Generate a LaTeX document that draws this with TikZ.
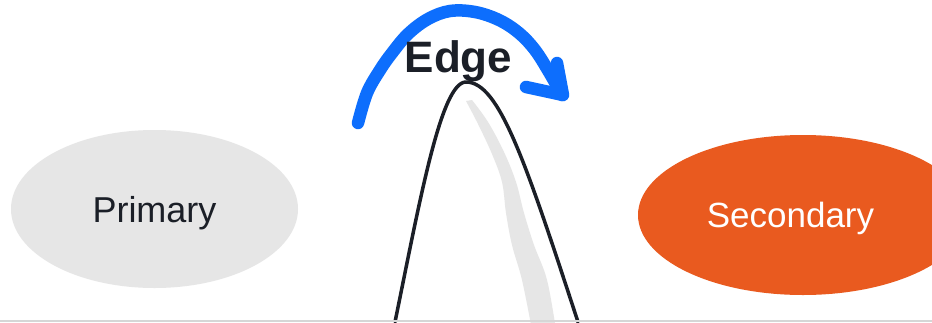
\documentclass[tikz,border=0pt]{standalone}
\usepackage{fontspec}
\setmainfont{Liberation Sans}
\usetikzlibrary{shapes.geometric}
\definecolor{inkdark}{HTML}{1B1F27}
\definecolor{primgray}{HTML}{E6E6E6}
\definecolor{secorange}{HTML}{E95A1F}
\definecolor{arcblue}{HTML}{0D6EFD}
\definecolor{shadowgray}{HTML}{E6E6E6}
\definecolor{basegray}{HTML}{D6D6D6}
\tikzset{
  blob/.style={ellipse, inner sep=0pt, text depth=0pt},
  hill/.style={draw=inkdark, line width=3.5pt, line cap=round, line join=round},
  bluestroke/.style={draw=arcblue, line width=12.5pt, line cap=round, line join=round},
}
\begin{document}
\begin{tikzpicture}[x=1pt,y=-1pt]
\useasboundingbox (0,0) rectangle (932,322);
\clip (0,0) rectangle (932,322);
\fill[white] (0,0) rectangle (932,322);
% ellipses
\node[blob, fill=primgray, minimum width=287pt, minimum height=158pt, text=inkdark,
      text height=26pt, font=\fontsize{36}{40}\selectfont] (primary) at (154.5,209) {Primary};
\node[blob, fill=secorange, minimum width=330pt, minimum height=160pt] (secondary) at (803,215) {};
\node[text=white, anchor=base, inner sep=0pt, font=\fontsize{35}{40}\selectfont] (sectext) at (790.5,227) {Secondary};
% shadow of hill (tapered)
\fill[shadowgray] plot[smooth, tension=0.6] coordinates {(466,101) (478,124) (492,154) (502,182) (506,213) (512,245) (522,280) (532,330)}
  -- plot[smooth, tension=0.6] coordinates {(556,330) (547,280) (534,245) (524,213) (516,182) (504,152) (488,122) (472,100)} -- cycle;
% hill
\coordinate (hl) at (395,322);
\coordinate (peak) at (466,82);
\coordinate (hr) at (578,322);
\draw[hill] (hl) .. controls (420,200) and (441,82) .. (peak)
               .. controls (499,82) and (525,160) .. (hr);
% base line
\coordinate (bl) at (0,321);
\coordinate (br) at (932,321);
\draw[basegray, line width=1.5pt] (bl) -- (br);
% blue arrow
\draw[bluestroke] plot[smooth, tension=0.6] coordinates {(358,123) (367,93) (380,70) (392,53) (408,34) (428,19) (450,11) (475,12) (499,20) (519,33) (535,50) (549,72) (562,95)};
\coordinate (tip) at (563,95);
\coordinate (barbA) at (557,63);
\coordinate (barbB) at (526,87);
\draw[bluestroke] (barbA) -- (tip) -- (barbB);
% label
\node[text=inkdark, anchor=base, inner sep=0pt, font=\bfseries\fontsize{44}{48}\selectfont] (edge) at (458.5,72) {Edge};
\end{tikzpicture}
\end{document}
